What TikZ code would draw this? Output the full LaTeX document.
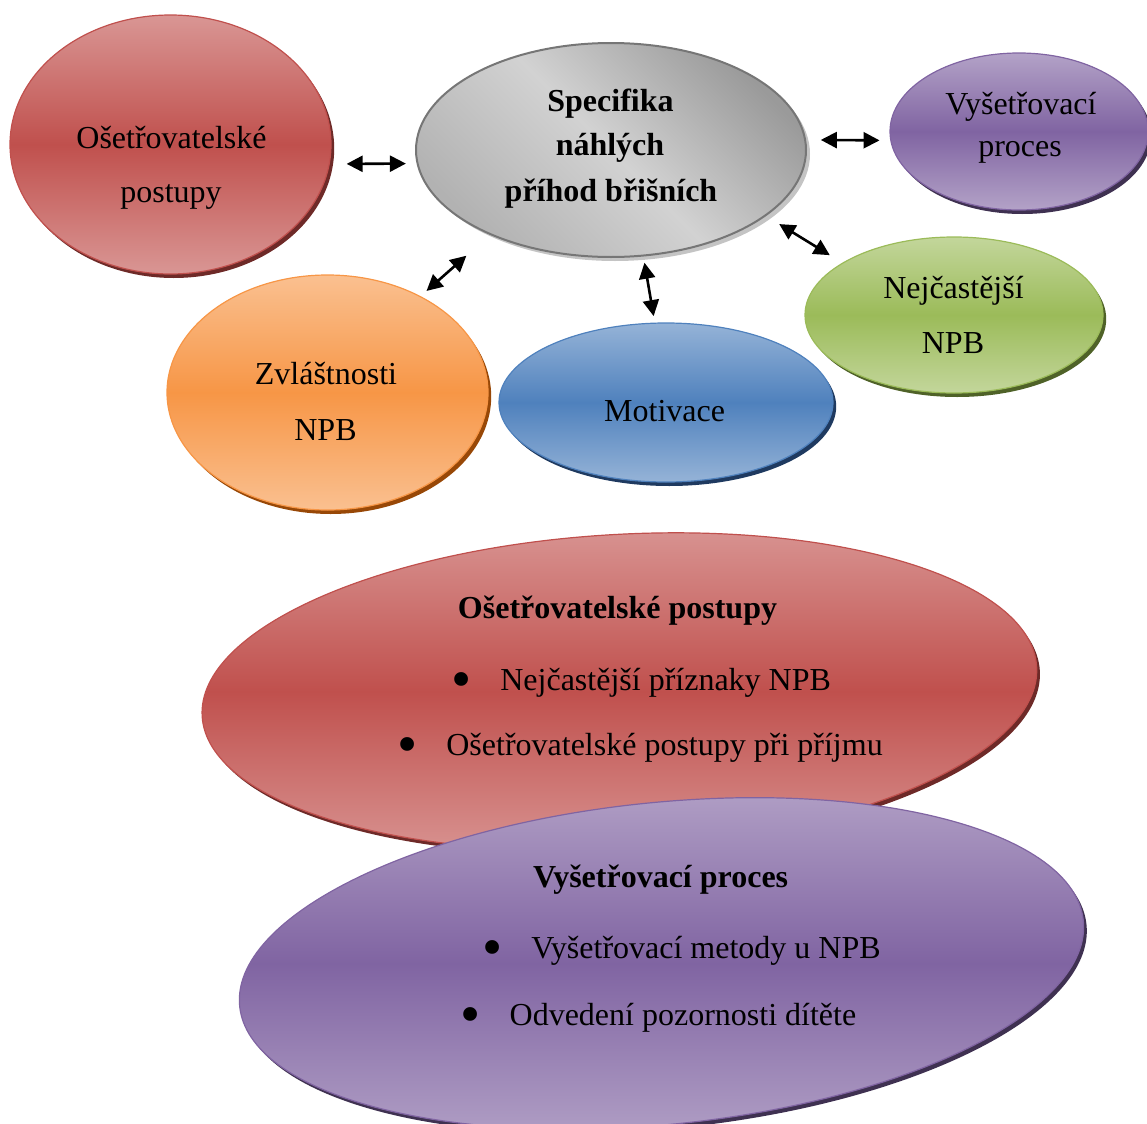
\documentclass[tikz,border=0pt]{standalone}
\usepackage{fontspec}
\setmainfont{Liberation Serif}
\usepackage{tikz}
\usetikzlibrary{arrows.meta,positioning,shapes.geometric,shadows}
\definecolor{redmid}{HTML}{C0504D}
\definecolor{redlt}{HTML}{D99694}
\definecolor{redsh}{HTML}{6E2A28}
\definecolor{violmid}{HTML}{8064A2}
\definecolor{violt}{HTML}{B3A2C7}
\definecolor{violsh}{HTML}{3F3151}
\definecolor{grnmid}{HTML}{9BBB59}
\definecolor{grnlt}{HTML}{C3D69B}
\definecolor{grnsh}{HTML}{4F6228}
\definecolor{bluemid}{HTML}{4F81BD}
\definecolor{bluelt}{HTML}{95B3D7}
\definecolor{bluesh}{HTML}{1F3A60}
\definecolor{orgmid}{HTML}{F79646}
\definecolor{orglt}{HTML}{FAC090}
\definecolor{orgsh}{HTML}{984807}
\definecolor{greydk}{HTML}{9A9A9A}
\definecolor{greymd}{HTML}{B2B2B2}
\definecolor{greylt}{HTML}{D2D2D2}
\definecolor{greyln}{HTML}{767676}
\definecolor{greysh}{HTML}{C4C4C4}
\tikzset{
  bubble/.style={ellipse, inner sep=0pt, outer sep=0pt, line width=0.6pt},
  tint/.style n args={3}{bubble, draw=#1, top color=#2, bottom color=#2, middle color=#1,
    drop shadow={shadow xshift=1.6pt, shadow yshift=-2pt, fill=#3, opacity=1}},
  txt/.style={font=\fontsize{16}{20}\selectfont, anchor=base, inner sep=0pt},
  ttl/.style={txt, font=\fontsize{16}{20}\selectfont\bfseries},
  item/.style={txt, anchor=base west},
  arr/.style={{Triangle[length=8pt,width=8pt]}-{Triangle[length=8pt,width=8pt]}, line width=1.3pt},
}
\newcommand{\bul}{\raisebox{-4.3pt}{\scalebox{1.8}{\textbullet}}\hspace{14.6pt}}

\begin{document}
\begin{tikzpicture}[x=0.5pt,y=-0.5pt]
  \useasboundingbox (0,0) rectangle (1147,1124);
  % upper cluster
  \node[tint={redmid}{redlt}{redsh}, minimum width=160.5pt, minimum height=129.5pt] (osesm) at (170.5,144.5) {};
  \node[bubble, draw=greyln, line width=1pt, top color=greymd, bottom color=greydk, middle color=greylt, shading angle=135,
    drop shadow={shadow xshift=2pt, shadow yshift=-2pt, fill=greysh, opacity=1},
    minimum width=195pt, minimum height=107pt] (spec) at (611,150) {};
  \node[tint={violmid}{violt}{violsh}, minimum width=129pt, minimum height=78.5pt] (vys) at (1019,131.5) {};
  \node[tint={grnmid}{grnlt}{grnsh}, minimum width=149pt, minimum height=78pt] (nej) at (954,315) {};
  \node[tint={orgmid}{orglt}{orgsh}, minimum width=160.5pt, minimum height=117.5pt] (zvl) at (327.5,392.5) {};
  \node[tint={bluemid}{bluelt}{bluesh}, minimum width=167pt, minimum height=79.5pt] (mot) at (666,402.5) {};

  \node[txt] (oseA) at (171.5,148) {Ošetřovatelské};
  \node[txt] (oseB) at (171,202) {postupy};
  \node[ttl] (specA) at (610.5,111.7) {Specifika};
  \node[ttl] (specB) at (610,155) {náhlých};
  \node[ttl] (specC) at (611,201.7) {příhod břišních};
  \node[txt] (vysA) at (1021,114) {Vyšetřovací};
  \node[txt] (vysB) at (1020,156.7) {proces};
  \node[txt] (nejA) at (953.5,298) {Nejčastější};
  \node[txt] (nejB) at (953,353) {NPB};
  \node[txt] (zvlA) at (326,384) {Zvláštnosti};
  \node[txt] (zvlB) at (325.5,440) {NPB};
  \node[txt] (motA) at (664.6,421.7) {Motivace};

  \foreach \a/\b/\s/\t in {osesm.-7/spec.184/8.75pt/5.85pt, spec.3/vys.184/7.85pt/5.65pt,
      zvl.46/spec.215/4.25pt/16.25pt, spec.-73/mot.98/3.65pt/3.6pt, spec.-23/nej.155/8.2pt/7.6pt}
    \draw[arr, shorten <=\s, shorten >=\t] (\a) -- (\b);

  % lower detail ellipses
  \node[tint={redmid}{redlt}{redsh}, minimum width=418pt, minimum height=157pt, rotate=3.4] (osebig) at (619.4,691.5) {};
  \node[ttl] (osebigA) at (617.5,618) {Ošetřovatelské postupy};
  \node[item] (osebigB) at (450.6,690) {\bul Nejčastější příznaky NPB};
  \node[item] (osebigC) at (396.6,755) {\bul Ošetřovatelské postupy při příjmu};

  \node[tint={violmid}{violt}{violsh}, minimum width=424pt, minimum height=161pt, rotate=5.8] (vysbig) at (661.5,963.5) {};
  \node[ttl] (vysbigA) at (660.6,887) {Vyšetřovací proces};
  \node[item] (vysbigB) at (481.6,958) {\bul Vyšetřovací metody u NPB};
  \node[item] (vysbigC) at (459.9,1025) {\bul Odvedení pozornosti dítěte};
\end{tikzpicture}
\end{document}
